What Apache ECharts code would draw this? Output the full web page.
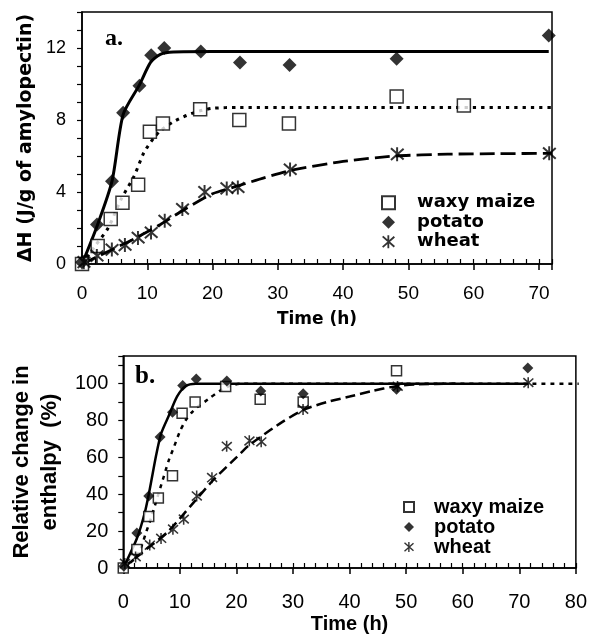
<!DOCTYPE html>
<html><head><meta charset="utf-8">
<script src="https://cdn.jsdelivr.net/npm/echarts@6/dist/echarts.min.js"></script>
<style>html,body{margin:0;padding:0;background:#fff}#c{width:590px;height:635px}</style>
</head><body><div id="c"></div><script>
// ---- Panel a: ΔH (J/g of amylopectin) vs time (h) ----
const waxyA = [[0,0],[2.4,1.0],[4.4,2.5],[6.2,3.4],[8.6,4.4],[10.4,7.35],[12.4,7.8],[18.1,8.6],[24.1,8.0],[31.7,7.8],[48.2,9.3],[58.5,8.8]];
const potatoA = [[0,0.1],[2.3,2.2],[4.6,4.6],[6.3,8.4],[8.8,9.9],[10.6,11.6],[12.6,12.0],[18.2,11.8],[24.2,11.2],[31.8,11.05],[48.2,11.4],[71.5,12.7]];
const wheatA = [[0.3,0.1],[2.3,0.45],[4.6,0.8],[6.6,1.05],[8.6,1.45],[10.6,1.75],[12.7,2.4],[15.4,3.05],[18.8,4.0],[22.2,4.2],[23.9,4.25],[31.9,5.25],[48.3,6.1],[71.6,6.15]];
const potatoFitA = [[0,0],[2.3,2.1],[4.6,4.6],[6.3,8.3],[8.8,9.95],[10.5,11.2],[12,11.65],[14,11.78],[20,11.8],[71.5,11.8]];
const waxyFitA = [[0,0],[2,1.0],[4,2.0],[6,3.6],[8,4.9],[9.5,6.2],[11,7.0],[12,7.4],[14,7.9],[16,8.25],[18,8.5],[20,8.65],[24,8.7],[73,8.7]];
const wheatFitA = [[0,0],[4,0.7],[8,1.4],[12,2.2],[16,3.1],[20,3.9],[24,4.35],[28,4.8],[32,5.2],[40,5.7],[48,6.0],[56,6.1],[64,6.13],[72,6.15]];
// ---- Panel b: relative change in enthalpy (%) vs time (h) ----
const waxyB = [[0,0],[2.4,10],[4.5,28],[6.2,38],[8.7,50],[10.4,84],[12.7,90],[18.1,98.5],[24.2,91.5],[31.8,90],[48.3,107]];
const potatoB = [[0.1,1],[2.4,19],[4.5,39],[6.5,71],[8.7,84.5],[10.5,99],[12.9,102.5],[18.3,101.5],[24.3,96],[31.8,94.5],[48.3,97],[71.5,108.5]];
const wheatB = [[0.3,2.5],[2.2,6],[4.7,12.5],[6.7,16],[8.8,21],[10.7,26.5],[13,39],[15.7,49],[18.3,66],[22.3,69],[24.4,68.5],[31.8,86],[48.5,98.5],[71.6,100.5]];
const potatoFitB = [[0,0],[2.4,16],[3.8,30],[4.7,43],[5.8,61],[6.7,73],[8.1,83],[9.5,93],[11,98.6],[12.8,100],[71.6,100]];
const waxyFitB = [[0,0],[2,5],[3,10],[4,19],[5,28],[6,38],[7,48],[8,58],[9,66],[10,74],[11,80],[12,84],[13,87],[15,91.5],[17,96],[19,99],[21,100],[80.5,100]];
const wheatFitB = [[0,0],[4,10],[8,20],[12,34],[16,48],[20,60],[22,66],[24,70.5],[28,79],[32,86],[36,90],[40,93],[44,96],[48,98.5],[52,99.6],[58.7,100]];
// ---- labels ----
const seriesNames = ['waxy maize','potato','wheat'];
const xTitle = 'Time (h)';
const yTitleA = '\u0394H (J/g of amylopectin)';
const yTitleB = 'Relative change in\nenthalpy  (%)';
const panelA = 'a.';
const panelB = 'b.';

const ASTER = 'path://M8.6 0H11.4V20H8.6Z M2.2 0.6L20.2 16.6L18.3 18.7L0.3 2.7Z M0.3 17.3L18.3 1.3L20.2 3.4L2.2 19.4Z';
const BLACK = '#000';

function scat(name, data, kind, size, xi, yi) {
  const s = {type:'scatter', name, data, xAxisIndex:xi, yAxisIndex:yi, symbolSize:size, z:5, animation:false, clip:false};
  if (kind === 'sq') { s.symbol='rect'; s.itemStyle={color:'#fff', borderColor:BLACK, borderWidth:1.5}; }
  else if (kind === 'di') { s.symbol='diamond'; s.itemStyle={color:BLACK}; }
  else { s.symbol=ASTER; s.itemStyle={color:BLACK}; }
  return s;
}
function fit(name, data, type, width, xi, yi) {
  return {type:'line', name, data, xAxisIndex:xi, yAxisIndex:yi, showSymbol:false, symbol:'none', smooth:0.25, clip:false, z:3, animation:false,
    lineStyle:{color:BLACK, width, type, cap:'butt'}};
}
const axLine = {show:true, lineStyle:{color:BLACK, width:1.5}};

const chart = echarts.init(document.getElementById('c'), null, {renderer:'canvas'});
chart.setOption({
  backgroundColor:'#fff',
  animation:false,
  title:[
    {text:panelA, left:105, top:27, padding:0, textStyle:{fontFamily:'Liberation Serif', fontWeight:'bold', fontSize:24, color:BLACK}},
    {text:panelB, left:135, top:364, padding:0, textStyle:{fontFamily:'Liberation Serif', fontWeight:'bold', fontSize:25, color:BLACK}}
  ],
  grid:[
    {left:82, top:12, width:470, height:252, show:true, borderColor:BLACK, borderWidth:1.5, backgroundColor:'transparent'},
    {left:113, top:356, width:464, height:213, show:true, borderColor:BLACK, borderWidth:1.5, backgroundColor:'transparent'}
  ],
  xAxis:[
    {gridIndex:0, type:'value', min:0, max:72, interval:10, position:'bottom', axisLine:axLine, splitLine:{show:false},
     axisTick:{show:true, inside:false, length:6, lineStyle:{color:BLACK, width:1.5}},
     axisLabel:{margin:20, fontFamily:'Liberation Sans', fontSize:19, color:BLACK, formatter:v => v % 10 === 0 ? String(v) : ''},
     name:xTitle, nameLocation:'middle', nameGap:47, nameTextStyle:{fontFamily:'DejaVu Sans', fontWeight:'bold', fontSize:17, color:BLACK}},
    {gridIndex:0, type:'value', min:0, max:72, interval:2, position:'bottom', offset:0, axisLine:{show:false}, splitLine:{show:false},
     axisTick:{show:true, inside:true, length:5, lineStyle:{color:BLACK, width:1.2}}, axisLabel:{show:false}},
    {gridIndex:1, type:'value', min:0, max:80, interval:10, position:'bottom', axisLine:axLine, splitLine:{show:false},
     axisTick:{show:true, inside:false, length:6, lineStyle:{color:BLACK, width:1.5}},
     axisLabel:{margin:24, fontFamily:'Liberation Sans', fontSize:20, color:BLACK},
     name:xTitle, nameLocation:'middle', nameGap:46, nameTextStyle:{fontFamily:'Liberation Sans', fontWeight:'bold', fontSize:20, color:BLACK}},
    {gridIndex:1, type:'value', min:0, max:80, interval:2, position:'bottom', offset:0, axisLine:{show:false}, splitLine:{show:false},
     axisTick:{show:true, inside:true, length:5, lineStyle:{color:BLACK, width:1.2}}, axisLabel:{show:false}}
  ],
  yAxis:[
    {gridIndex:0, type:'value', min:0, max:14, interval:1, axisLine:axLine, splitLine:{show:false},
     axisTick:{show:true, inside:false, length:5, lineStyle:{color:BLACK, width:1.2}},
     axisLabel:{margin:16, fontFamily:'Liberation Sans', fontSize:18, color:BLACK, formatter:v => v % 4 === 0 ? String(v) : ''},
     name:yTitleA, nameLocation:'middle', nameRotate:90, nameGap:33,
     nameTextStyle:{fontFamily:'DejaVu Sans', fontWeight:'bold', fontSize:19, color:BLACK}},
    {gridIndex:1, type:'value', min:0, max:115, interval:10, axisLine:axLine, splitLine:{show:false},
     axisTick:{show:true, inside:false, length:5, lineStyle:{color:BLACK, width:1.2}},
     axisLabel:{margin:15, fontFamily:'Liberation Sans', fontSize:20, color:BLACK, formatter:v => v % 20 === 0 ? String(v) : ''},
     name:yTitleB, nameLocation:'middle', nameRotate:90, nameGap:52,
     nameTextStyle:{fontFamily:'Liberation Sans', fontWeight:'bold', fontSize:22, lineHeight:28, color:BLACK, align:'center'}}
  ],
  legend:[
    {orient:'vertical', left:376, top:188, itemWidth:13, itemHeight:13, itemGap:0, data:seriesNames, selectedMode:false,
     textStyle:{fontFamily:'DejaVu Sans', fontWeight:'bold', fontSize:18, lineHeight:19.5, color:BLACK, padding:[0,0,0,17]}},
    {orient:'vertical', left:398, top:492, itemWidth:10, itemHeight:10, itemGap:0, data:seriesNames, selectedMode:false,
     textStyle:{fontFamily:'Liberation Sans', fontWeight:'bold', fontSize:20, lineHeight:18.5, color:BLACK, padding:[0,0,0,15]}}
  ],
  series:[
    fit('potato fit a', potatoFitA, 'solid', 3, 0, 0),
    fit('waxy maize fit a', waxyFitA, [3.3,5], 3, 0, 0),
    fit('wheat fit a', wheatFitA, [15,6], 2.8, 0, 0),
    scat(seriesNames[0], waxyA, 'sq', 13, 0, 0),
    scat(seriesNames[1], potatoA, 'di', 14, 0, 0),
    scat(seriesNames[2], wheatA, 'as', 14, 0, 0),
    fit('potato fit b', potatoFitB, 'solid', 2.5, 2, 1),
    fit('waxy maize fit b', waxyFitB, [4,5], 2.5, 2, 1),
    fit('wheat fit b', wheatFitB, [10,5], 2.5, 2, 1),
    scat(seriesNames[0], waxyB, 'sq', 10, 2, 1),
    scat(seriesNames[1], potatoB, 'di', 11, 2, 1),
    scat(seriesNames[2], wheatB, 'as', 11, 2, 1)
  ]
});
</script></body></html>
